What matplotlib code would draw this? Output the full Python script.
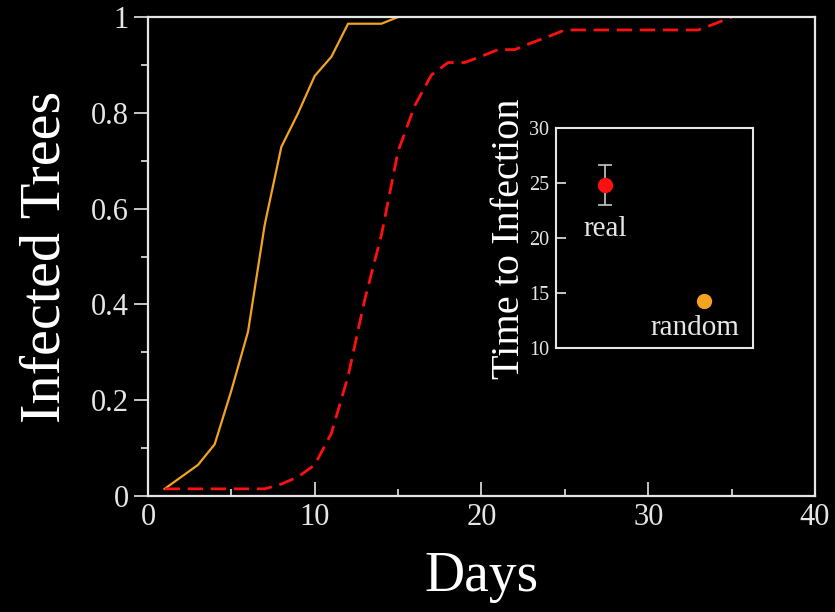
import matplotlib
matplotlib.use('Agg')
import matplotlib.pyplot as plt

# Fraction of infected trees per day
days_random = [1, 2, 3, 4, 5, 6, 7, 8, 9, 10, 11, 12, 13, 14, 15]
infected_random = [0.015, 0.04, 0.065, 0.108, 0.22, 0.343, 0.566, 0.729, 0.799,
                   0.877, 0.917, 0.986, 0.986, 0.986, 1.0]

days_real = [1, 2, 3, 4, 5, 6, 7, 8, 9, 10, 11, 12, 13, 14, 15, 16, 17, 18,
             19, 20, 21, 22, 23, 24, 25, 26, 27, 28, 29, 30, 31, 32, 33, 34, 35]
infected_real = [0.015, 0.015, 0.015, 0.015, 0.015, 0.015, 0.015, 0.025, 0.04,
                 0.065, 0.131, 0.25, 0.41, 0.545, 0.72, 0.815, 0.879, 0.905,
                 0.905, 0.918, 0.932, 0.932, 0.946, 0.959, 0.973, 0.973, 0.973,
                 0.973, 0.973, 0.973, 0.973, 0.973, 0.973, 0.986, 1.0]

# Inset: mean time to infection
inset_labels = ['real', 'random']
inset_x = [1, 2]
inset_time = [24.85, 14.3]
inset_err = [1.8, 0.0]

orange = '#f2a322'
red = '#ff1010'
fg = '#e6e6e6'

plt.rcParams['font.family'] = ['Liberation Serif', 'DejaVu Serif']

fig = plt.figure(figsize=(8.35, 6.12), dpi=100, facecolor='black')
ax = fig.add_axes([0.1772, 0.1895, 0.7988, 0.7827], facecolor='black')

ax.plot(days_random, infected_random, color=orange, lw=1.6)
ax.plot(days_real, infected_real, color=red, lw=2, dashes=(5.5, 2.8))

ax.set_xlim(0, 40)
ax.set_ylim(0, 1)
ax.set_xticks([0, 10, 20, 30, 40])
ax.set_xticks([5, 15, 25, 35], minor=True)
ax.set_yticks([0, 0.2, 0.4, 0.6, 0.8, 1])
ax.set_yticklabels(['0', '0.2', '0.4', '0.6', '0.8', '1'])
ax.set_yticks([0.1, 0.3, 0.5, 0.7, 0.9], minor=True)

for s in ax.spines.values():
    s.set_color(fg)
    s.set_linewidth(1.6)

ax.tick_params(axis='x', which='major', direction='in', length=10, width=1.2,
               colors=fg, labelsize=22, pad=5)
ax.tick_params(axis='x', which='minor', direction='in', length=5, width=1.2, colors=fg)
ax.tick_params(axis='y', which='major', direction='out', length=10, width=1.2,
               colors=fg, labelsize=22, pad=4)
ax.tick_params(axis='y', which='minor', direction='out', length=5, width=1.2, colors=fg)

ax.set_xlabel('Days', fontsize=40, color='white', labelpad=14)
ax.set_ylabel('Infected Trees', fontsize=42, color='white', labelpad=14)

# inset
ins = fig.add_axes([0.6659, 0.4309, 0.2356, 0.3595], facecolor='black')
ins.errorbar(inset_x[0], inset_time[0], yerr=inset_err[0], fmt='o', color=red,
             ms=10, ecolor='#c8c8c8', elinewidth=1.2, capsize=5, capthick=1.2)
ins.plot(inset_x[1], inset_time[1], 'o', color=orange, ms=10)
ins.text(inset_x[0], 20.8, inset_labels[0], ha='center', va='center',
         fontsize=21, color=fg)
ins.text(1.91, 11.8, inset_labels[1], ha='center', va='center',
         fontsize=21, color=fg)

ins.set_xlim(0.5, 2.5)
ins.set_ylim(10, 30)
ins.set_xticks([])
ins.set_yticks([10, 15, 20, 25, 30])
for s in ins.spines.values():
    s.set_color(fg)
    s.set_linewidth(1.5)
ins.tick_params(axis='y', direction='in', length=7, width=1.2, colors=fg,
                labelsize=14.5, pad=5)
ins.set_ylabel('Time to Infection', fontsize=29, color='white', labelpad=1)

fig.savefig('out.png', dpi=100, facecolor='black')
